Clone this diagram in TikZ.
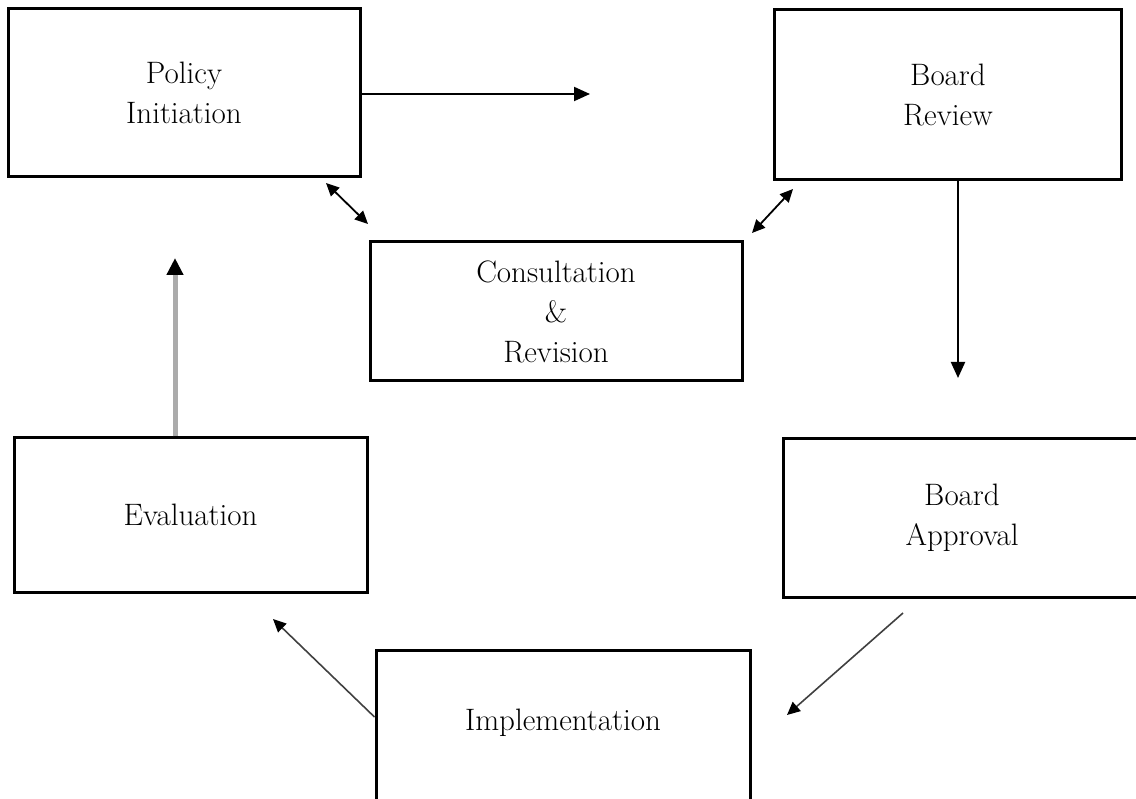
\documentclass[tikz,border=0pt]{standalone}
\usetikzlibrary{arrows.meta}
\begin{document}
\begin{tikzpicture}[x=1pt,y=-1pt,>={Triangle[length=16pt,width=14pt]},
  box/.style={draw,line width=3pt,inner sep=0pt,align=center,font=\fontsize{31}{40}\selectfont},
  flow/.style={->,line width=2pt},
  slant/.style={->,line width=1.6pt,draw=black!75,>={Triangle[length=13pt,width=12pt,black]}},
  link/.style={<->,line width=1.8pt,>={Triangle[length=13pt,width=12pt]}}]
\useasboundingbox (0,0) rectangle (1136,799);
\node[box,minimum width=352,minimum height=168] (policy) at (184,93) {Policy\\Initiation};
\node[box,minimum width=347,minimum height=170] (review) at (948,95) {Board\\Review};
\node[box,minimum width=372,minimum height=139] (consult) at (556,311.5) {Consultation\\\&\\Revision};
\node[box,minimum width=353,minimum height=154] (eval) at (190.5,515) {Evaluation};
\node[box,minimum width=358,minimum height=158] (approval) at (962,518) {Board\\Approval};
\node[box,minimum width=374,text height=80,text depth=101,anchor=north] (impl) at (563,649) {Implementation};
\coordinate (policyend) at (590,94);
\coordinate (reviewend) at (958,378);
\coordinate (approvalout) at (903,613);
\coordinate (implend) at (787,715);
\coordinate (implout) at (0,717);
\coordinate (evalend) at (273,619);
\coordinate (evalup) at (175,258);
\coordinate (pc1) at (326,183);
\coordinate (pc2) at (368,224);
\coordinate (rc1) at (793,189);
\coordinate (rc2) at (752,233);
\draw[flow] (policy.east |- policyend) -- (policyend);
\draw[flow] (review.south -| reviewend) -- (reviewend);
\draw[slant] (approvalout) -- (implend);
\draw[slant] (impl.west |- implout) -- (evalend);
\draw[line width=5pt,draw=black!33,-{Triangle[length=17pt,width=16pt,black]}] (eval.north -| evalup) -- (evalup);
\draw[link] (pc1) -- (pc2);
\draw[link] (rc1) -- (rc2);
\end{tikzpicture}
\end{document}
